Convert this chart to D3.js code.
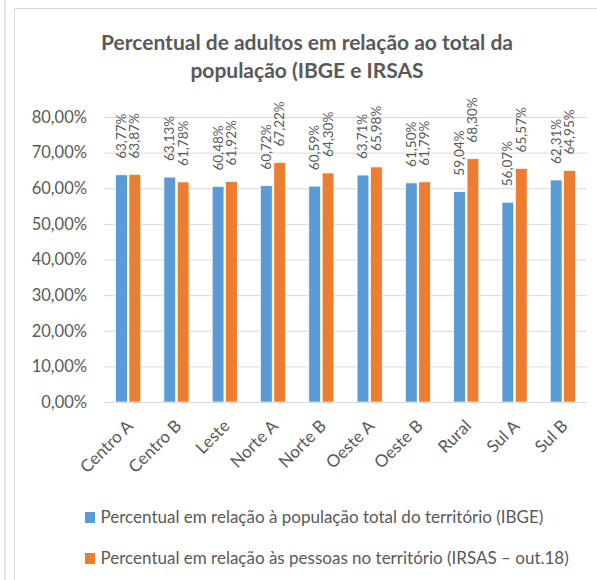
<!DOCTYPE html>
<html>
<head>
<meta charset="utf-8">
<script src="https://cdn.jsdelivr.net/npm/d3@7"></script>
<style>
  body { margin: 0; background: #fff; }
  text { font-family: Lato, "Noto Sans", sans-serif; fill: #595959; }
</style>
</head>
<body>
<div id="chart"></div>
<script>
var categories = ["Centro A", "Centro B", "Leste", "Norte A", "Norte B", "Oeste A", "Oeste B", "Rural", "Sul A", "Sul B"];
var ibge = [63.77, 63.13, 60.48, 60.72, 60.59, 63.71, 61.50, 59.04, 56.07, 62.31];
var irsas = [63.87, 61.78, 61.92, 67.22, 64.30, 65.98, 61.79, 68.30, 65.57, 64.95];
var seriesNames = ["Percentual em relação à população total do território (IBGE)",
                   "Percentual em relação às pessoas no território (IRSAS – out.18)"];
var colors = ["#5B9BD5", "#ED7D31"];
var yTicks = [0, 10, 20, 30, 40, 50, 60, 70, 80];
var titleLines = ["Percentual de adultos em relação ao total da", "população (IBGE e IRSAS"];

var W = 597, H = 580;
var svg = d3.select("#chart").append("svg")
    .attr("width", W).attr("height", H);

// outer frames
svg.append("rect").attr("x", 4).attr("y", -5).attr("width", 2).attr("height", H + 10).attr("fill", "#e6e6e6");
svg.append("path").attr("d", "M14.5," + H + "V8.5H" + W)
    .attr("fill", "none").attr("stroke", "#d9d9d9").attr("stroke-width", 1);

// title
svg.append("g").selectAll("text").data(titleLines).enter().append("text")
    .attr("x", 307).attr("y", function(d, i) { return 50 + i * 28; })
    .attr("text-anchor", "middle")
    .style("font-size", "21px").style("font-weight", "bold")
    .text(function(d) { return d; });

var pLeft = 104, pRight = 587, pTop = 117, pBottom = 402;

var yScale = d3.scaleLinear().domain([0, 80]).range([pBottom, pTop]);
var x0 = d3.scaleBand().domain(categories).range([pLeft, pRight]).paddingInner(0.48).paddingOuter(0.24);
var x1 = d3.scaleBand().domain([0, 1]).range([0, x0.bandwidth()]).paddingInner(0.12);

// gridlines
var yGrid = d3.axisLeft(yScale).tickValues(yTicks).tickSize(-(pRight - pLeft)).tickFormat("");
var gGrid = svg.append("g").attr("transform", "translate(" + pLeft + ",0)").call(yGrid);
gGrid.select(".domain").remove();
gGrid.selectAll("line").attr("stroke", "#d9d9d9").attr("stroke-width", 1);

// y labels
var fmt = function(v) { return d3.format(".2f")(v).replace(".", ",") + "%"; };
var yAxis = d3.axisLeft(yScale).tickValues(yTicks).tickSize(0).tickPadding(17).tickFormat(fmt);
var gy = svg.append("g").attr("transform", "translate(" + pLeft + ",0)").call(yAxis);
gy.select(".domain").remove();
gy.selectAll("text").style("font-size", "16.5px").attr("fill", "#595959").attr("font-family", null);

// bars
var rows = categories.map(function(c, i) { return {cat: c, vals: [ibge[i], irsas[i]]}; });
var groups = svg.append("g").selectAll("g").data(rows).enter().append("g")
    .attr("transform", function(d) { return "translate(" + x0(d.cat) + ",0)"; });

groups.selectAll("rect").data(function(d) { return d.vals; }).enter().append("rect")
    .attr("x", function(d, i) { return x1(i); })
    .attr("y", function(d) { return yScale(d); })
    .attr("width", x1.bandwidth())
    .attr("height", function(d) { return pBottom - yScale(d); })
    .attr("fill", function(d, i) { return colors[i]; })
    .attr("stroke", "#fff").attr("stroke-width", 0.7);

// data labels
groups.selectAll("text").data(function(d) { return d.vals; }).enter().append("text")
    .attr("transform", function(d, i) {
        return "translate(" + (x1(i) + x1.bandwidth() / 2 + 4.5) + "," + (yScale(d) - 16) + ") rotate(-90)";
    })
    .style("font-size", "13.5px")
    .text(fmt);

// x axis baseline
svg.append("line").attr("x1", pLeft).attr("x2", pRight).attr("y1", pBottom + 0.5).attr("y2", pBottom + 0.5)
    .attr("stroke", "#d9d9d9");

// x labels
svg.append("g").selectAll("text").data(categories).enter().append("text")
    .attr("transform", function(d) {
        return "translate(" + (x0(d) + x0.bandwidth() / 2 + 6) + "," + (pBottom + 25) + ") rotate(-45)";
    })
    .attr("text-anchor", "end")
    .style("font-size", "17px")
    .text(function(d) { return d; });

// legend
var leg = svg.append("g").selectAll("g").data(seriesNames).enter().append("g")
    .attr("transform", function(d, i) { return "translate(85," + (512 + i * 41) + ")"; });
leg.append("rect").attr("width", 10).attr("height", 11).attr("fill", function(d, i) { return colors[i]; });
leg.append("text").attr("x", 15.5).attr("y", 11).style("font-size", "17px").text(function(d) { return d; });
</script>
</body>
</html>
